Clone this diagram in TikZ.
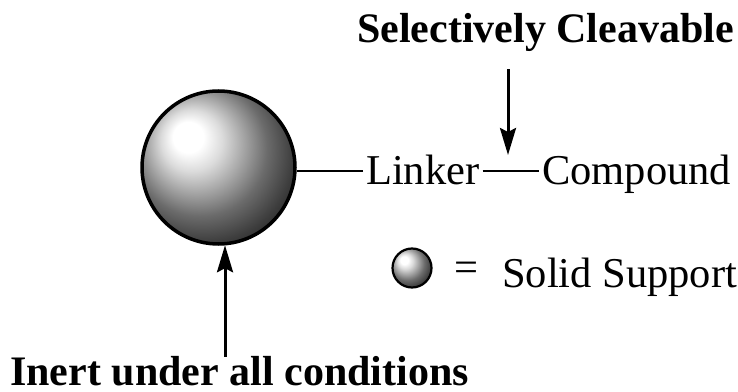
\documentclass[tikz,border=0pt]{standalone}
\usepackage{fontspec}
\setmainfont{Liberation Serif}
\usetikzlibrary{arrows.meta}
\pgfdeclareradialshading{sphereshade}{\pgfpoint{-11bp}{11bp}}{%
  color(0bp)=(white); color(5bp)=(white); color(10bp)=(black!14);
  color(16bp)=(black!36); color(22bp)=(black!58); color(29bp)=(black!76);
  color(36bp)=(black!90); color(50bp)=(black)}
\begin{document}
\begin{tikzpicture}[x=1pt,y=1pt,
  lbl/.style={inner xsep=3pt, inner ysep=0pt, text height=28pt, text depth=0pt,
    font=\fontsize{42.5}{48}\selectfont},
  bold/.style={inner sep=0pt, font=\fontsize{42}{48}\selectfont\bfseries},
  sphere/.style={circle, draw=black, line width=3.5pt, shading=sphereshade, inner sep=0pt},
  conn/.style={line width=2.8pt},
  arr/.style={line width=3pt, -{Stealth[length=27pt,width=16pt,inset=4pt]}}]
\useasboundingbox (0,0) rectangle (738,391);
\node[sphere, minimum size=153pt] (ball) at (218.5,223.5) {};
\node[lbl, anchor=base west] (linker) at (363,206) {Linker};
\node[lbl, anchor=base west] (compound) at (539,206) {Compound};
\node[bold, anchor=base east] (sel) at (734,348) {Selectively Cleavable};
\node[bold, anchor=base west] (inert) at (10,6) {Inert under all conditions};
\node[sphere, line width=2.2pt, minimum size=39pt] (small) at (412,123) {};
\node[inner sep=0pt, font=\fontsize{42.5}{48}\selectfont] (eq) at (466,119) {=};
\node[lbl, anchor=base west, inner xsep=0pt] (solid) at (502,104) {Solid Support};
\coordinate (cut) at (508,236);
\coordinate (bx) at (225,0);
\draw[conn] (linker.west) -- (linker.west -| ball.east);
\draw[conn] (linker.east) -- (compound.west);
\draw[arr] ([yshift=-17pt]sel.south -| cut) -- (cut);
\draw[arr] ([yshift=-1pt]inert.north -| bx) -- ([yshift=0.5pt]ball.south -| bx);
\end{tikzpicture}
\end{document}
